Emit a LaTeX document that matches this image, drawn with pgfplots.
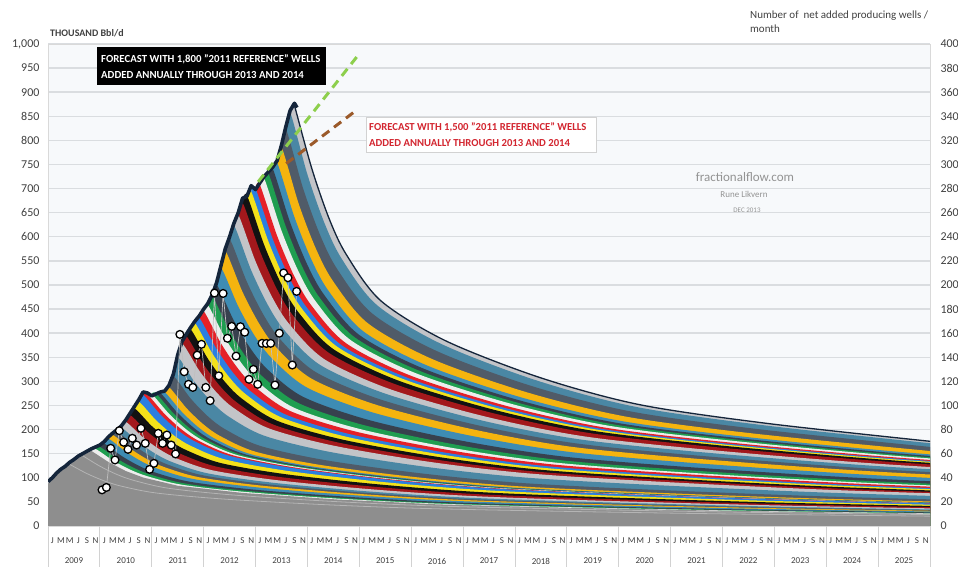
\documentclass[border=0pt]{standalone}
\usepackage{pgfplots}
\pgfplotsset{compat=1.18}
\usepackage{fontspec}
\setmainfont{Carlito}
\definecolor{bgc}{HTML}{F7F9FB}
\definecolor{gridc}{HTML}{DADDE0}
\definecolor{labc}{HTML}{404040}
\definecolor{basegray}{HTML}{8E8E8E}
\definecolor{thinline}{HTML}{B4B4B4}
\definecolor{c0}{HTML}{C3C4C8}
\definecolor{c1}{HTML}{4A87A4}
\definecolor{c2}{HTML}{505B68}
\definecolor{c3}{HTML}{F5B40F}
\definecolor{c4}{HTML}{3E8CB4}
\definecolor{c5}{HTML}{37414E}
\definecolor{c6}{HTML}{1F9E50}
\definecolor{c7}{HTML}{EDEDED}
\definecolor{c8}{HTML}{E52128}
\definecolor{c9}{HTML}{2B7FE0}
\definecolor{c10}{HTML}{F4E21A}
\definecolor{c11}{HTML}{121212}
\definecolor{c12}{HTML}{A3181C}
\definecolor{navy}{HTML}{14253B}
\definecolor{fgreen}{HTML}{8DCF4C}
\definecolor{fbrown}{HTML}{9B5A2A}
\definecolor{redtext}{HTML}{D32630}
\pgfplotsset{band/.style={fill=#1,draw=none,smooth,tension=0.5}}
\begin{document}
\begin{tikzpicture}[x=1pt,y=1pt]
\useasboundingbox (0,0) rectangle (958,567);
\begin{axis}[at={(48pt,41pt)}, anchor=south west, scale only axis,
  width=882pt, height=482pt,
  xmin=0, xmax=204, ymin=0, ymax=1000,
  xtick=\empty, ytick={0,50,...,1000},
  ymajorgrids, grid style={draw=gridc, line width=1.4pt},
  axis line style={draw=gray!30},
  axis background/.style={fill=bgc},
  tick style={draw=none},
  /pgf/number format/1000 sep={,},
  /pgf/number format/assume math mode=true,
  yticklabel style={font=\fontsize{12}{12}\selectfont, text=labc, xshift=-5pt}]
% vintage bands, newest first
\addplot[band=c0] coordinates {(56,858)(57,873)(61,742.1)(65,638.2)(69,563.1)(77,467.1)(92,384.1)(114,307.3)(137,251.4)(167,212.1)(207,172.9)} \closedcycle;
\addplot[band=c1] coordinates {(55,824)(56,858)(60,729.3)(64,627.2)(68,553.4)(76,459.0)(91,377.5)(113,302.0)(136,247.1)(166,208.5)(206,169.9)} \closedcycle;
\addplot[band=c2] coordinates {(54,786)(55,824)(59,700.4)(63,602.3)(67,531.5)(75,440.8)(90,362.6)(112,290.0)(135,237.3)(165,200.2)(205,163.2)} \closedcycle;
\addplot[band=c3] coordinates {(53,754)(54,786)(58,668.1)(62,574.6)(66,507.0)(74,420.5)(89,345.8)(111,276.7)(134,226.4)(164,191.0)(204,155.6)} \closedcycle;
\addplot[band=c4] coordinates {(52,741)(53,754)(57,640.9)(61,551.2)(65,486.3)(73,403.4)(88,331.8)(110,265.4)(133,217.2)(163,183.2)(203,149.3)(249,122.1)} \closedcycle;
\addplot[band=c5] coordinates {(51,731)(52,741)(56,629.9)(60,541.7)(64,477.9)(72,396.4)(87,326.0)(109,260.8)(132,213.4)(162,180.1)(202,146.7)(248,120.0)} \closedcycle;
\addplot[band=c6] coordinates {(50,721)(51,731)(55,621.4)(59,534.4)(63,471.5)(71,391.1)(86,321.6)(108,257.3)(131,210.5)(161,177.6)(201,144.7)(247,118.4)} \closedcycle;
\addplot[band=c7] coordinates {(49,708)(50,721)(54,612.9)(58,527.1)(62,465.0)(70,385.7)(85,317.2)(107,253.8)(130,207.6)(160,175.2)(200,142.8)(246,116.8)} \closedcycle;
\addplot[band=c8] coordinates {(48,700)(49,708)(53,601.8)(57,517.5)(61,456.7)(69,378.8)(84,311.5)(106,249.2)(129,203.9)(159,172.0)(199,140.2)(245,114.7)} \closedcycle;
\addplot[band=c9] coordinates {(47,694)(48,700)(52,595.0)(56,511.7)(60,451.5)(68,374.5)(83,308.0)(105,246.4)(128,201.6)(158,170.1)(198,138.6)(244,113.4)} \closedcycle;
\addplot[band=c10] coordinates {(46,686)(47,694)(51,589.9)(55,507.3)(59,447.6)(67,371.3)(82,305.4)(104,244.3)(127,199.9)(157,168.6)(197,137.4)(243,112.4)} \closedcycle;
\addplot[band=c11] coordinates {(45,671)(46,686)(50,583.1)(54,501.5)(58,442.5)(66,367.0)(81,301.8)(103,241.5)(126,197.6)(156,166.7)(196,135.8)(242,111.1)} \closedcycle;
\addplot[band=c12] coordinates {(44,646)(45,671)(49,570.4)(53,490.5)(57,432.8)(65,359.0)(80,295.2)(102,236.2)(125,193.2)(155,163.1)(195,132.9)(241,108.7)} \closedcycle;
\addplot[band=c0] coordinates {(43,624)(44,646)(48,549.1)(52,472.2)(56,416.7)(64,345.6)(79,284.2)(101,227.4)(124,186.0)(154,157.0)(194,127.9)(240,104.7)} \closedcycle;
\addplot[band=c1] coordinates {(42,596)(43,624)(47,530.4)(51,456.1)(55,402.5)(63,333.8)(78,274.6)(100,219.6)(123,179.7)(153,151.6)(193,123.6)(239,101.1)} \closedcycle;
\addplot[band=c2] coordinates {(41,571)(42,596)(46,506.6)(50,435.7)(54,384.4)(62,318.9)(77,262.2)(99,209.8)(122,171.6)(152,144.8)(192,118.0)(238,96.6)} \closedcycle;
\addplot[band=c3] coordinates {(40,536)(41,571)(45,485.4)(49,417.4)(53,368.3)(61,305.5)(76,251.2)(98,201.0)(121,164.4)(151,138.8)(191,113.1)(237,92.5)} \closedcycle;
\addplot[band=c4] coordinates {(39,501)(40,536)(44,455.6)(48,391.8)(52,345.7)(60,286.8)(75,235.8)(97,188.7)(120,154.4)(150,130.2)(190,106.1)(236,86.8)} \closedcycle;
\addplot[band=c5] coordinates {(38,476)(39,501)(43,425.9)(47,366.2)(51,323.1)(59,268.0)(74,220.4)(96,176.4)(119,144.3)(149,121.7)(189,99.2)(235,81.2)} \closedcycle;
\addplot[band=c6] coordinates {(37,458)(38,476)(42,404.6)(46,348.0)(50,307.0)(58,254.7)(73,209.4)(95,167.6)(118,137.1)(148,115.7)(188,94.2)(234,77.1)} \closedcycle;
\addplot[band=c7] coordinates {(36,446)(37,458)(41,389.3)(45,334.8)(49,295.4)(57,245.0)(72,201.5)(94,161.2)(117,131.9)(147,111.3)(187,90.7)(233,74.2)} \closedcycle;
\addplot[band=c8] coordinates {(35,432)(36,446)(40,379.1)(44,326.0)(48,287.7)(56,238.6)(71,196.2)(93,157.0)(116,128.4)(146,108.4)(186,88.3)(232,72.3)} \closedcycle;
\addplot[band=c9] coordinates {(34,421)(35,432)(39,367.2)(43,315.8)(47,278.6)(55,231.1)(70,190.1)(92,152.1)(115,124.4)(145,105.0)(185,85.5)(231,70.0)} \closedcycle;
\addplot[band=c10] coordinates {(33,408)(34,421)(38,357.9)(42,307.8)(46,271.5)(54,225.2)(69,185.2)(91,148.2)(114,121.2)(144,102.3)(184,83.4)(230,68.2)} \closedcycle;
\addplot[band=c11] coordinates {(32,394)(33,408)(37,346.8)(41,298.2)(45,263.2)(53,218.3)(68,179.5)(90,143.6)(113,117.5)(143,99.1)(183,80.8)(229,66.1)} \closedcycle;
\addplot[band=c12] coordinates {(31,379)(32,394)(36,334.9)(40,288.0)(44,254.1)(52,210.8)(67,173.4)(89,138.7)(112,113.5)(142,95.7)(182,78.0)(228,63.8)} \closedcycle;
\addplot[band=c0] coordinates {(30,350)(31,379)(35,322.2)(39,277.0)(43,244.5)(51,202.8)(66,166.8)(88,133.4)(111,109.2)(141,92.1)(181,75.0)(227,61.4)} \closedcycle;
\addplot[band=c1] coordinates {(29,311)(30,350)(34,297.5)(38,255.9)(42,225.8)(50,187.3)(65,154.0)(87,123.2)(110,100.8)(140,85.1)(180,69.3)(226,56.7)} \closedcycle;
\addplot[band=c2] coordinates {(28,288)(29,311)(33,264.4)(37,227.3)(41,200.6)(49,166.4)(64,136.8)(86,109.5)(109,89.6)(139,75.6)(179,61.6)(225,50.4)} \closedcycle;
\addplot[band=c3] coordinates {(27,278)(28,288)(32,244.8)(36,210.5)(40,185.8)(48,154.1)(63,126.7)(85,101.4)(108,82.9)(138,70.0)(178,57.0)(224,46.7)} \closedcycle;
\addplot[band=c4] coordinates {(26,276)(27,278)(31,236.3)(35,203.2)(39,179.3)(47,148.7)(62,122.3)(84,97.9)(107,80.1)(137,67.6)(177,55.0)(223,45.0)} \closedcycle;
\addplot[band=c5] coordinates {(25,275)(26,276)(30,234.6)(34,201.8)(38,178.0)(46,147.7)(61,121.4)(83,97.2)(106,79.5)(136,67.1)(176,54.6)(222,44.7)} \closedcycle;
\addplot[band=c6] coordinates {(24,274)(25,275)(29,233.8)(33,201.0)(37,177.4)(45,147.1)(60,121.0)(82,96.8)(105,79.2)(135,66.8)(175,54.5)(221,44.6)} \closedcycle;
\addplot[band=c7] coordinates {(23,273)(24,274)(28,232.9)(32,200.3)(36,176.7)(44,146.6)(59,120.6)(81,96.4)(104,78.9)(134,66.6)(174,54.3)(220,44.4)} \closedcycle;
\addplot[band=c8] coordinates {(22,272)(23,273)(27,232.1)(31,199.6)(35,176.1)(43,146.1)(58,120.1)(80,96.1)(103,78.6)(133,66.3)(173,54.1)(219,44.2)} \closedcycle;
\addplot[band=c9] coordinates {(21,258)(22,272)(26,231.2)(30,198.8)(34,175.4)(42,145.5)(57,119.7)(79,95.7)(102,78.3)(132,66.1)(172,53.9)(218,44.1)} \closedcycle;
\addplot[band=c10] coordinates {(20,244)(21,258)(25,219.3)(29,188.6)(33,166.4)(41,138.0)(56,113.5)(78,90.8)(101,74.3)(131,62.7)(171,51.1)(217,41.8)} \closedcycle;
\addplot[band=c11] coordinates {(19,230)(20,244)(24,207.4)(28,178.4)(32,157.4)(40,130.5)(55,107.4)(77,85.9)(100,70.3)(130,59.3)(170,48.3)(216,39.5)} \closedcycle;
\addplot[band=c12] coordinates {(18,216)(19,230)(23,195.5)(27,168.1)(31,148.4)(39,123.1)(54,101.2)(76,81.0)(99,66.2)(129,55.9)(169,45.5)(215,37.3)} \closedcycle;
\addplot[band=c0] coordinates {(17,204)(18,216)(22,183.6)(26,157.9)(30,139.3)(38,115.6)(53,95.0)(75,76.0)(98,62.2)(128,52.5)(168,42.8)(214,35.0)} \closedcycle;
\addplot[band=c1] coordinates {(16,196)(17,204)(21,173.4)(25,149.1)(29,131.6)(37,109.1)(52,89.8)(74,71.8)(97,58.8)(127,49.6)(167,40.4)(213,33.0)} \closedcycle;
\addplot[band=c2] coordinates {(15,189)(16,196)(20,166.6)(24,143.3)(28,126.4)(36,104.9)(51,86.2)(73,69.0)(96,56.4)(126,47.6)(166,38.8)(212,31.8)} \closedcycle;
\addplot[band=c3] coordinates {(14,181)(15,189)(19,160.7)(23,138.2)(27,121.9)(35,101.1)(50,83.2)(72,66.5)(95,54.4)(125,45.9)(165,37.4)(211,30.6)} \closedcycle;
\addplot[band=c4] coordinates {(13,171)(14,181)(18,153.9)(22,132.3)(26,116.7)(34,96.8)(49,79.6)(71,63.7)(94,52.1)(124,44.0)(164,35.8)(210,29.3)} \closedcycle;
\addplot[band=c5] coordinates {(12,164)(13,171)(17,145.4)(21,125.0)(25,110.3)(33,91.5)(48,75.2)(70,60.2)(93,49.2)(123,41.6)(163,33.9)(209,27.7)} \closedcycle;
\addplot[band=c6] coordinates {(11,160)(12,164)(16,139.4)(20,119.9)(24,105.8)(32,87.7)(47,72.2)(69,57.7)(92,47.2)(122,39.9)(162,32.5)(208,26.6)} \closedcycle;
\addplot[band=c7] coordinates {(10,156)(11,160)(15,136.0)(19,117.0)(23,103.2)(31,85.6)(46,70.4)(68,56.3)(91,46.1)(121,38.9)(161,31.7)(207,25.9)} \closedcycle;
% base (older wells)
\addplot[fill=basegray,draw=none] coordinates {(0,88)(1,96)(2,106)(3,114)(4,120)(5,128)(6,134)(7,141)(8,146)(9,151)(10,156)(14,132.6)(18,114.0)(22,100.6)(30,83.5)(45,68.6)(67,54.9)(90,44.9)(120,37.9)(160,30.9)(206,25.3)} \closedcycle;
\addplot[draw=thinline,line width=0.8pt,smooth,tension=0.5] coordinates {(8,146)(12,124.1)(16,106.7)(20,94.2)(28,78.1)(43,64.2)(65,51.4)(88,42.0)(118,35.5)(158,28.9)(204,23.7)};
\addplot[draw=thinline,line width=0.8pt,smooth,tension=0.5] coordinates {(5,128)(9,108.8)(13,93.6)(17,82.6)(25,68.5)(40,56.3)(62,45.1)(85,36.9)(115,31.1)(155,25.3)(201,20.7)(204,20.5)};
% outline of the forecast envelope
\addplot[draw=navy,line width=1.3pt,smooth,tension=0.5] coordinates {(57,873)(61,742.1)(65,638.2)(69,563.1)(77,467.1)(92,384.1)(114,307.3)(137,251.4)(167,212.1)(207,172.9)};
% actual production
\addplot[draw=navy,line width=3.6pt,line join=round] coordinates {(0,92)(1,100)(2,110)(3,118)(4,124)(5,132)(6,138)(7,145)(8,150)(9,155)(10,160)(11,164)(12,168)(13,175)(14,185)(15,193)(16,200)(17,208)(18,220)(19,234)(20,248)(21,262)(22,278)(23,276)(24,270)(25,274)(26,278)(27,280)(28,292)(29,315)(30,355)(31,383)(32,398)(33,412)(34,425)(35,436)(36,450)(37,462)(38,480)(39,505)(40,540)(41,575)(42,600)(43,628)(44,650)(45,680)(46,684)(47,706)(48,698)(49,712)(50,725)(51,735)(52,745)(53,758)(54,790)(55,828)(56,862)(57,877)(57.6,868)};
% forecasts
\addplot[draw=fgreen,line width=3pt,dash pattern=on 9pt off 6pt] coordinates {(48.6,714)(71.4,973)};
\addplot[draw=fbrown,line width=3pt,dash pattern=on 9pt off 6pt] coordinates {(55.1,752)(71.4,863)};
\end{axis}
\begin{axis}[at={(48pt,41pt)}, anchor=south west, scale only axis,
  width=882pt, height=482pt,
  xmin=0, xmax=204, ymin=0, ymax=400,
  axis x line=none, axis y line*=right,
  axis line style={draw=none},
  ytick={0,20,...,400}, tick style={draw=none},
  /pgf/number format/assume math mode=true,
  yticklabel style={font=\fontsize{12}{12}\selectfont, text=labc, xshift=7pt}]
\addplot[draw=gray!50,line width=0.7pt,mark=*,mark size=3.9pt,
  mark options={fill=white,draw=black,line width=1.3pt,solid}] coordinates {(12.5,30)(13.5,32)(14.5,64.5)(15.5,54.8)(16.5,79.1)(17.5,69.5)(18.5,63.6)(19.5,72.8)(20.5,67.2)(21.5,81.1)(22.5,68.6)(23.5,47)(24.5,52)(25.5,76.9)(26.5,68.6)(27.5,75.5)(28.5,67.2)(29.5,59.8)(30.5,159)(31.5,128)(32.5,117.6)(33.5,115)(34.5,141.8)(35.5,150.8)(36.5,115)(37.5,104)(38.5,193.3)(39.5,124.6)(40.5,193)(41.5,155.8)(42.5,165.7)(43.5,141)(44.5,165.4)(45.5,160.8)(46.5,121.7)(47.5,130)(48.5,117.6)(49.5,151.6)(50.5,151.5)(51.5,151.6)(52.5,117)(53.5,160)(54.5,210)(55.5,206)(56.5,133.6)(57.5,194.7)};
\end{axis}
% x axis: month letters, years, separators
\foreach \k in {0,...,17} {\draw[gray!35,line width=0.8pt] ({48+51.882*\k},0) -- ({48+51.882*\k},41);}
\foreach \k in {0,...,16} {
  \foreach \j/\l in {0/J,1/M,2/M,3/J,4/S,5/N} {
    \node[font=\fontsize{9}{9}\selectfont,text=labc,inner sep=0pt] at ({48+4.32353*(12*\k+2*\j+1)},26) {\l};
  }
  \pgfmathtruncatemacro{\yr}{2009+\k}
  \node[font=\fontsize{9}{9}\selectfont,text=labc,inner sep=0pt] at ({48+51.882*(\k+0.5)},6) {\yr};
}
% titles
\node[anchor=base west,font=\bfseries\fontsize{10}{10}\selectfont,text=labc,inner sep=0pt] at (50,530) {THOUSAND Bbl/d};
\node[anchor=base west,font=\fontsize{11}{11}\selectfont,text=labc,inner sep=0pt] at (750,548) {Number of~ net added producing wells /};
\node[anchor=base west,font=\fontsize{11}{11}\selectfont,text=labc,inner sep=0pt] at (750,534) {month};
% annotation boxes
\fill[black] (97,482) rectangle (326,520);
\node[anchor=base west,font=\bfseries\fontsize{10.8}{12}\selectfont,text=white,inner sep=0pt] at (101,504) {FORECAST WITH 1,800 "2011 REFERENCE" WELLS};
\node[anchor=base west,font=\bfseries\fontsize{10.8}{12}\selectfont,text=white,inner sep=0pt] at (101,488) {ADDED ANNUALLY THROUGH 2013 AND 2014};
\draw[draw=gray!35,fill=white] (366,415) rectangle (596,450);
\node[anchor=base west,font=\bfseries\fontsize{10.7}{12}\selectfont,text=redtext,inner sep=0pt] at (369,436) {FORECAST WITH 1,500 "2011 REFERENCE" WELLS};
\node[anchor=base west,font=\bfseries\fontsize{10.7}{12}\selectfont,text=redtext,inner sep=0pt] at (369,420) {ADDED ANNUALLY THROUGH 2013 AND 2014};
% watermark
\node[font=\fontsize{13}{13}\selectfont,text=gray!85,inner sep=0pt] at (745,390) {fractionalflow.com};
\node[font=\fontsize{9}{9}\selectfont,text=gray!85,inner sep=0pt] at (744,373) {Rune Likvern};
\node[font=\fontsize{7}{7}\selectfont,text=gray!85,inner sep=0pt] at (747,357) {DEC 2013};
\end{tikzpicture}
\end{document}
